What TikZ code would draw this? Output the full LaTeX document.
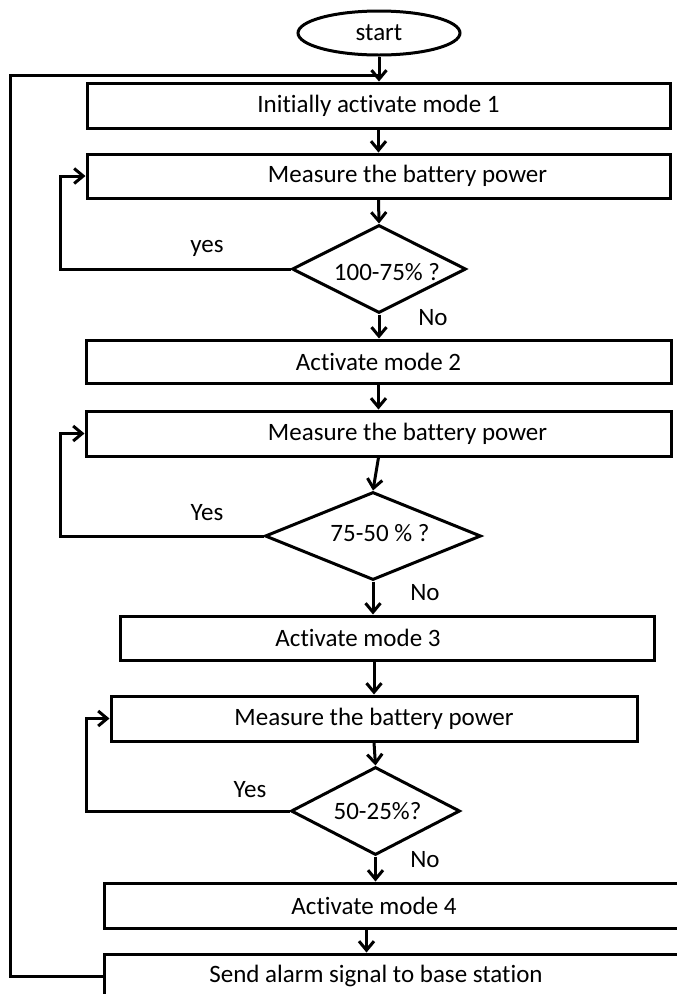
\documentclass[tikz,border=0pt]{standalone}
\usepackage{fontspec}
\setmainfont{Carlito}[Ligatures=NoCommon]
\usetikzlibrary{shapes.geometric,arrows.meta,calc}
\begin{document}
\begin{tikzpicture}[x=1pt,y=-1pt,
  every node/.style={font=\fontsize{25}{30}\selectfont},
  ln/.style={line width=3pt},
  arr/.style={ln,-{Straight Barb[length=9pt,width=15pt]}},
  stepbox/.style={draw,ln,rectangle,inner sep=0pt,minimum height=44pt},
  decision/.style={draw,ln,diamond,inner sep=0pt,minimum height=88pt},
  startnode/.style={draw,ln,ellipse,inner sep=0pt,minimum width=162pt,minimum height=44pt}
]
\useasboundingbox (0,0) rectangle (677,994);
\clip (0,0) rectangle (677,994);

% nodes
\node[startnode] (start) at (379,33) {start};
\node[stepbox,minimum width=583pt,minimum height=45pt] (b1) at (378.5,105.5) {Initially activate mode 1};
\node[stepbox,minimum width=583pt,label={[xshift=29pt]center:Measure the battery power}] (b2) at (378.5,176) {};
\node[decision,minimum width=174pt,label={[xshift=8pt,yshift=-3pt]center:100-75\% ?}] (d1) at (379,269) {};
\node[stepbox,minimum width=585pt,minimum height=43pt] (b3) at (378.5,361.5) {Activate mode 2};
\node[stepbox,minimum width=585pt,minimum height=45pt,label={[xshift=29pt]center:Measure the battery power}] (b4) at (378.5,433.5) {};
\node[decision,minimum width=216pt,label={[xshift=7pt,yshift=3pt]center:75-50 \% ?}] (d2) at (373,536) {};
\node[stepbox,minimum width=534pt,label={[xshift=-29pt]center:Activate mode 3}] (b5) at (387,638) {};
\node[stepbox,minimum width=526pt,minimum height=45pt] (b6) at (374,718.5) {Measure the battery power};
\node[decision,minimum width=169pt,label={[xshift=2pt]center:50-25\%?}] (d3) at (375.5,811) {};
\node[stepbox,minimum width=596pt,minimum height=45pt,label={[xshift=-28pt]center:Activate mode 4}] (b7) at (402,905.5) {};
\node[stepbox,minimum width=596pt,label={[xshift=-26pt]center:Send alarm signal to base station}] (b8) at (402,976) {};

% branch labels
\node (y1) at (207,248) {yes};
\node (n1) at (433,318) {No};
\node (y2) at (207,513) {Yes};
\node (n2) at (425,593) {No};
\node (y3) at (250,790) {Yes};
\node (n3) at (425,860) {No};

% main flow
\draw[arr] (start.south) -- (start.south |- b1.north);
\draw[arr] (b1.south) -- (b2.north);
\draw[arr] (b2.south) -- (d1.north);
\draw[arr] (d1.south) -- (d1.south |- b3.north);
\draw[arr] (b3.south) -- (b4.north);
\draw[arr] (b4.south) -- (d2.north);
\draw[arr] (d2.south) -- (d2.south |- b5.north);
\draw[arr] (b6.north |- b5.south) -- (b6.north);
\draw[arr] (b6.south) -- (d3.north);
\draw[arr] (d3.south) -- (d3.south |- b7.north);
\draw[arr] ($(b7.south west)+(264,0)$) -- ($(b8.north west)+(264,0)$);

% yes loops
\draw[arr] (d1.west) -- ++(-230,0) |- (b2.west);
\draw[arr] (d2.west) -- ++(-203,0) |- (b4.west);
\draw[arr] (d3.west) -- ++(-203,0) |- (b6.west);

% return loop
\coordinate (fbcorner) at (10,75);
\coordinate (fbend) at (379,75);
\draw[ln] (b8.west) -| (fbcorner) -- (fbend);
\end{tikzpicture}
\end{document}
